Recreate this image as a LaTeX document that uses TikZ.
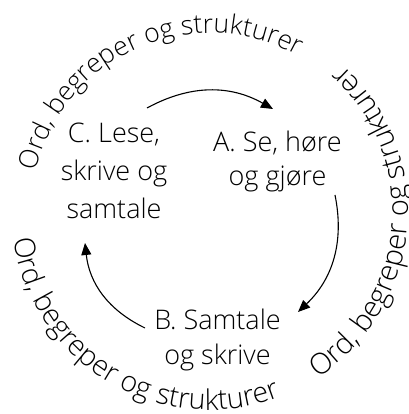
\documentclass[tikz,border=0pt]{standalone}
\usepackage{fontspec}
\setmainfont{Open Sans}[UprightFont=* Light]
\usetikzlibrary{arrows.meta,decorations.text}
\begin{document}
\begin{tikzpicture}[x=1pt,y=1pt,
  lbl/.style={align=center, inner sep=0pt, text=black},
  cyc/.style={-{Triangle[length=12pt,width=10pt]}, line width=1.1pt, bend left=29},
  ring/.style 2 args={decorate, decoration={text along path, text align=center, text={|\fontsize{#2}{32}\selectfont|#1}}}
]
\useasboundingbox (0,0) rectangle (408,414);
\coordinate (O) at (210,202);

% labels
\node[lbl, font=\fontsize{27}{38}\selectfont] (C) at (114,243) {C. Lese,\\skrive og\\samtale};
\node[lbl, font=\fontsize{27}{34}\selectfont] (A) at (277.5,252.5) {A. Se, høre\\og gjøre};
\node[lbl, font=\fontsize{27}{35}\selectfont] (B) at (217.5,74) {B. Samtale\\og skrive};

% arrows
\coordinate (a1s) at (147,306);
\coordinate (a1e) at (273,305);
\coordinate (a2s) at (335,219);
\coordinate (a2e) at (298,102);
\coordinate (a3s) at (145,86);
\coordinate (a3e) at (85,171);
\draw[cyc] (a1s) to (a1e);
\draw[cyc] (a2s) to (a2e);
\draw[cyc] (a3s) to (a3e);

% curved texts
\path[ring={Ord, begreper og strukturer}{26.5}] (O) ++(193.8:179) arc[start angle=193.8, end angle=33.8, radius=179];
\path[ring={Ord, begreper og strukturer}{28.5}] (O) ++(159.5:198) arc[start angle=159.5, end angle=319.5, radius=198];
\path[ring={Ord, begreper og strukturer}{29}] (O) ++(-84.5:198) arc[start angle=-84.5, end angle=75.5, radius=198];
\end{tikzpicture}
\end{document}
